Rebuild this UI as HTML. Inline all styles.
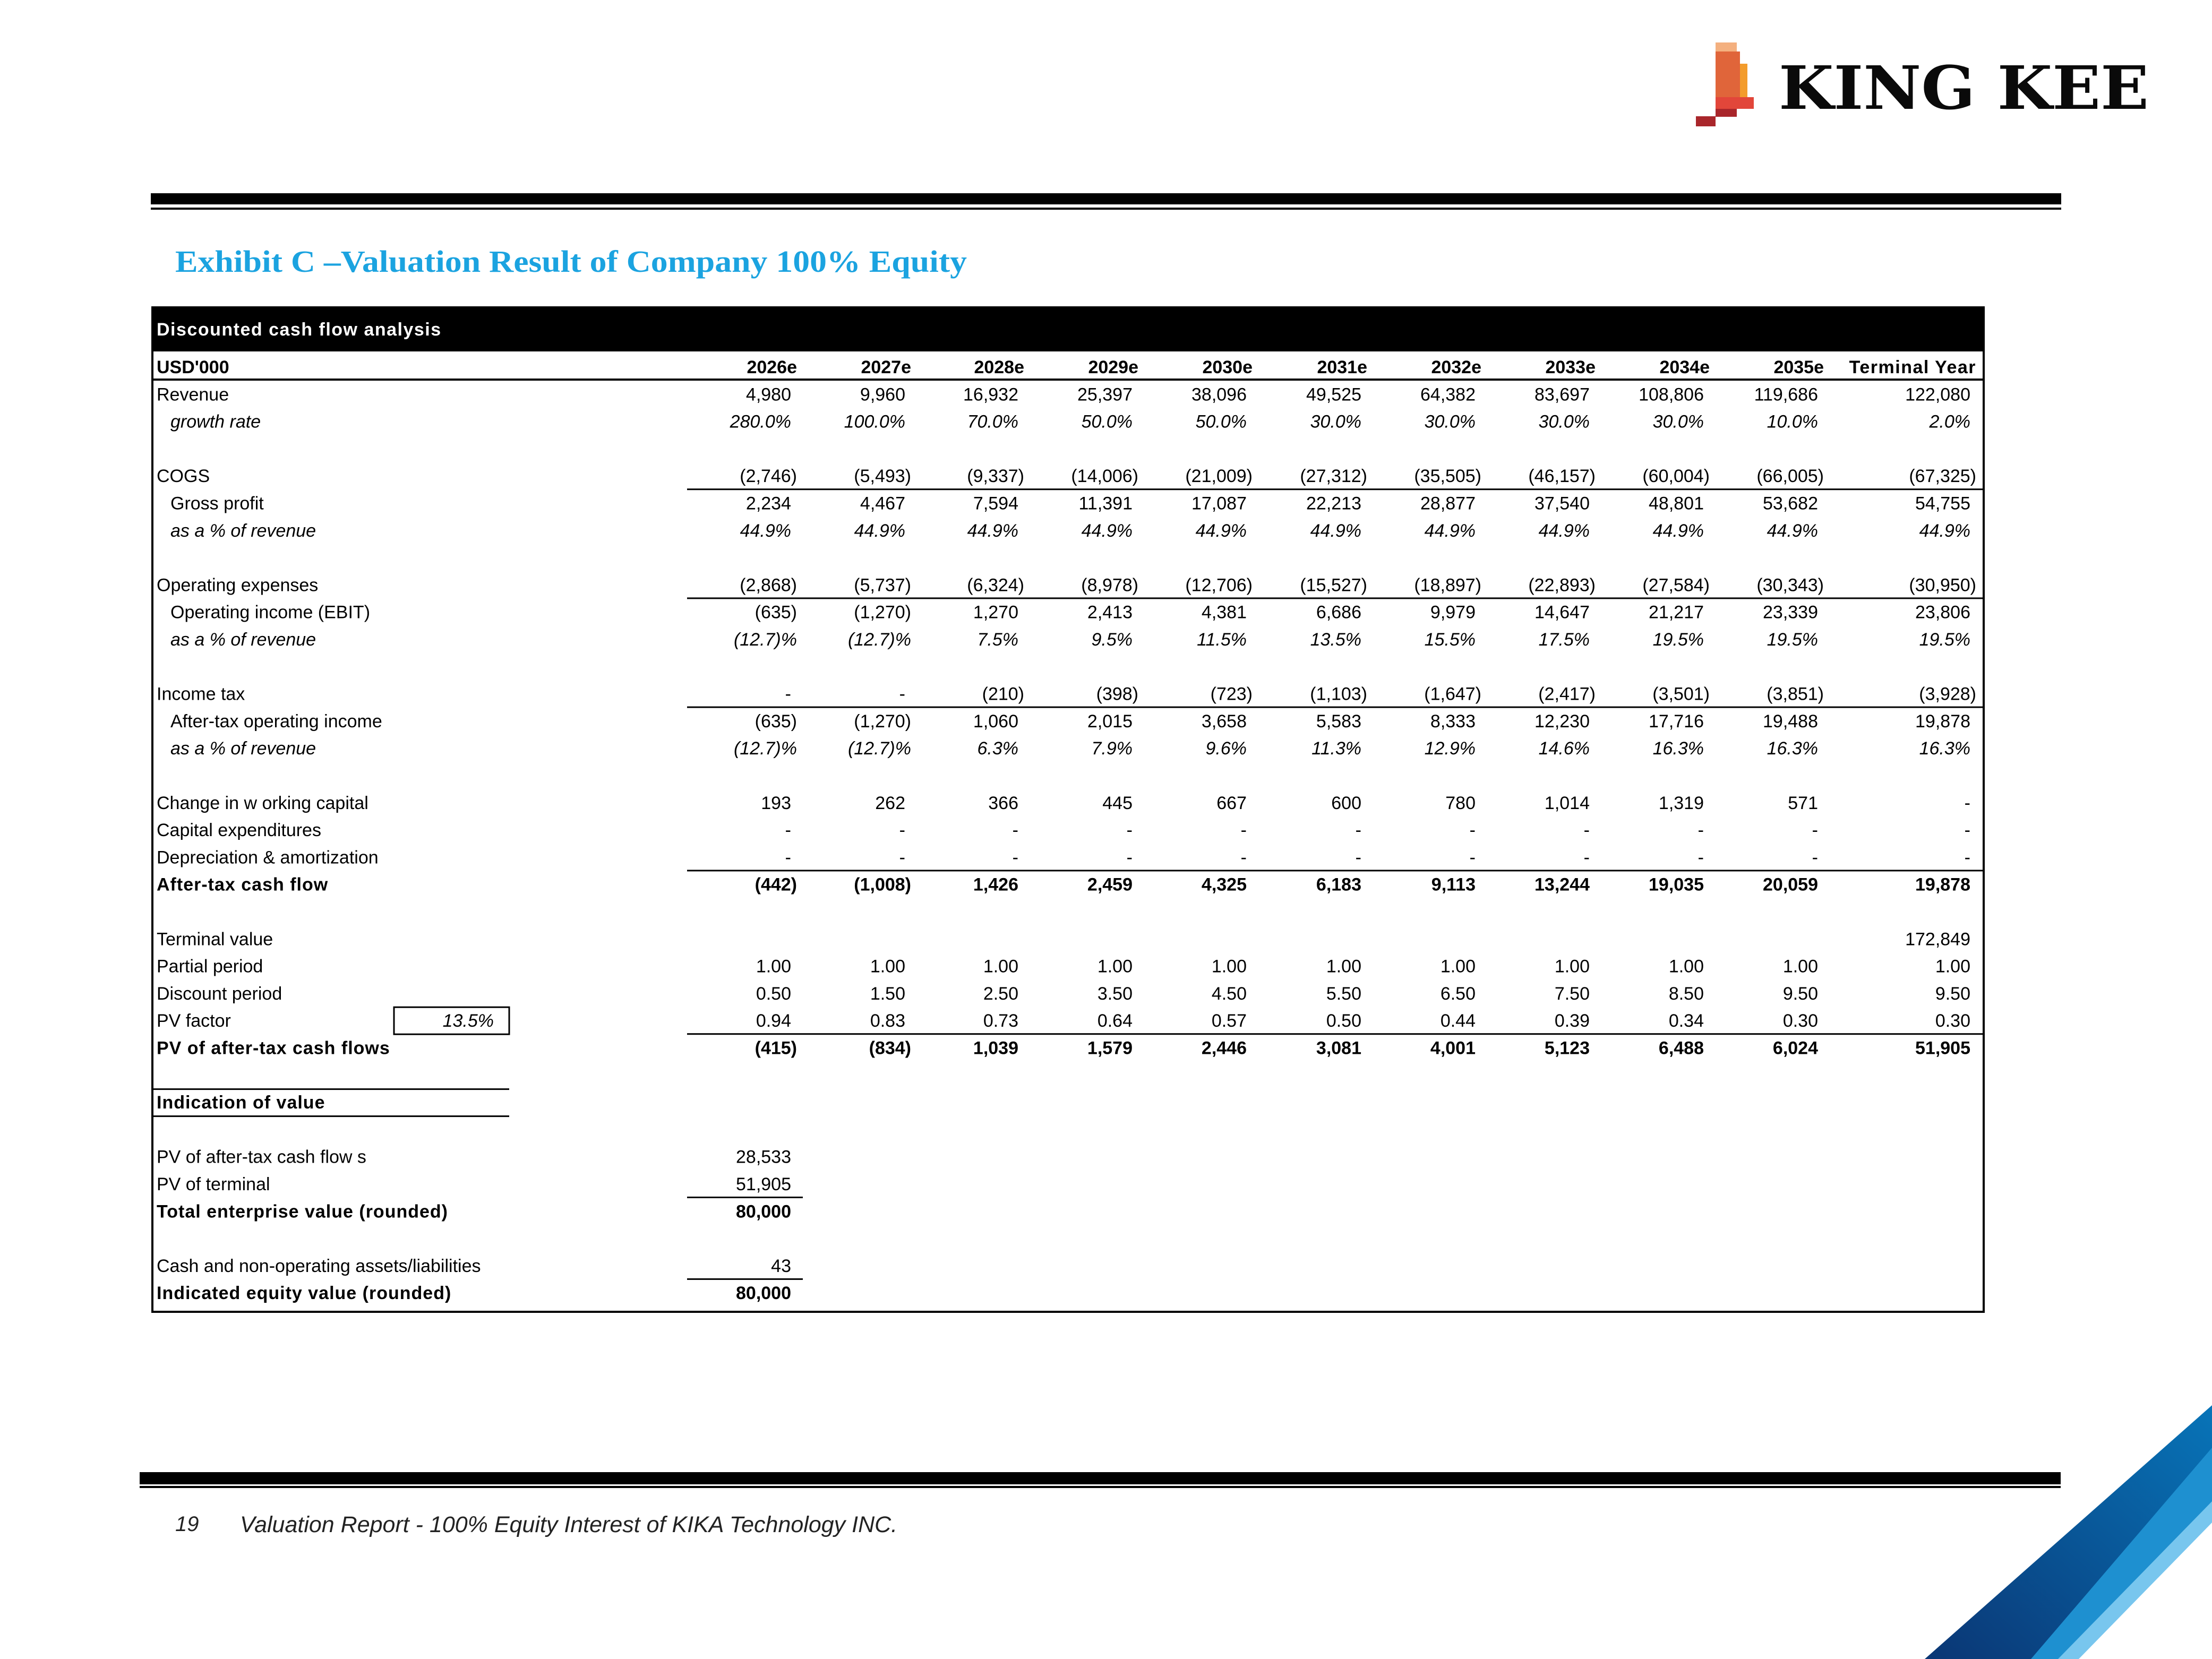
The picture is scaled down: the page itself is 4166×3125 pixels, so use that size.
<!DOCTYPE html>
<html><head><meta charset="utf-8"><style>
html,body{margin:0;padding:0;background:#fff;}
svg{display:block;}
text{font-family:"Liberation Sans",Arial,sans-serif;}
</style></head><body>
<svg id="pg" width="4166" height="3125" viewBox="0 0 4166 3125" xmlns="http://www.w3.org/2000/svg">
  <g>
    <rect x="3231" y="80" width="40" height="18" fill="#f4b07f"/>
    <rect x="3231" y="97" width="46" height="90" fill="#e0653a"/>
    <rect x="3277" y="120" width="14" height="63" fill="#f39c2c"/>
    <rect x="3231" y="183" width="72" height="22" fill="#e2463a"/>
    <rect x="3231" y="205" width="40" height="15" fill="#a9262b"/>
    <rect x="3194" y="219" width="37" height="19" fill="#a9262b"/>
    <text x="3350" y="205" style="font-family:'DejaVu Serif','Liberation Serif',serif;font-weight:900" font-size="112" textLength="697" lengthAdjust="spacingAndGlyphs" fill="#0a0a0a">KING KEE</text>
  </g>
  <rect x="284" y="364" width="3598" height="21" fill="#000"/>
  <rect x="284" y="391" width="3598" height="4" fill="#000"/>
  <text x="330" y="512" style="font-family:'Liberation Serif',serif;font-weight:bold" font-size="58" textLength="1491" lengthAdjust="spacingAndGlyphs" fill="#1ba3e0">Exhibit C –Valuation Result of Company 100% Equity</text>

  <g id="tbl">
    <rect x="287" y="579" width="3449" height="1892" fill="none" stroke="#000" stroke-width="4"/>
    <rect x="287" y="579" width="3449" height="83" fill="#000"/>
    <text x="295" y="632" font-size="34" font-weight="bold" fill="#fff" letter-spacing="1.5">Discounted cash flow analysis</text>
  </g>

  <rect x="263" y="2773" width="3618" height="23" fill="#000"/>
  <rect x="263" y="2799" width="3618" height="4" fill="#000"/>
  <text x="330" y="2884" font-size="40" font-style="italic" fill="#222">19</text>
  <text x="452" y="2886" font-size="43" font-style="italic" fill="#222">Valuation Report - 100% Equity Interest of KIKA Technology INC.</text>

  <g>
    <defs><linearGradient id="dg" x1="0" y1="1" x2="1" y2="0"><stop offset="0" stop-color="#0a3674"/><stop offset="1" stop-color="#0874b8"/></linearGradient></defs>
    <polygon points="3625,3125 4166,2647 4166,3125" fill="url(#dg)"/>
    <polygon points="3825,3125 4166,2727 4166,3125" fill="#1e90d0"/>
    <polygon points="3876,3125 4166,2828 4166,3125" fill="#78c6ee"/>
    <polygon points="3915,3125 4166,2868 4166,3125" fill="#fff"/>
  </g>
</svg>
<script>
var years = ["2026e","2027e","2028e","2029e","2030e","2031e","2032e","2033e","2034e","2035e","Terminal Year"];
var revenue = ["4,980","9,960","16,932","25,397","38,096","49,525","64,382","83,697","108,806","119,686","122,080"];
var growth = ["280.0%","100.0%","70.0%","50.0%","50.0%","30.0%","30.0%","30.0%","30.0%","10.0%","2.0%"];
var cogs = ["(2,746)","(5,493)","(9,337)","(14,006)","(21,009)","(27,312)","(35,505)","(46,157)","(60,004)","(66,005)","(67,325)"];
var grossProfit = ["2,234","4,467","7,594","11,391","17,087","22,213","28,877","37,540","48,801","53,682","54,755"];
var gpMargin = ["44.9%","44.9%","44.9%","44.9%","44.9%","44.9%","44.9%","44.9%","44.9%","44.9%","44.9%"];
var opex = ["(2,868)","(5,737)","(6,324)","(8,978)","(12,706)","(15,527)","(18,897)","(22,893)","(27,584)","(30,343)","(30,950)"];
var ebit = ["(635)","(1,270)","1,270","2,413","4,381","6,686","9,979","14,647","21,217","23,339","23,806"];
var ebitMargin = ["(12.7)%","(12.7)%","7.5%","9.5%","11.5%","13.5%","15.5%","17.5%","19.5%","19.5%","19.5%"];
var tax = ["-","-","(210)","(398)","(723)","(1,103)","(1,647)","(2,417)","(3,501)","(3,851)","(3,928)"];
var atoi = ["(635)","(1,270)","1,060","2,015","3,658","5,583","8,333","12,230","17,716","19,488","19,878"];
var atoiMargin = ["(12.7)%","(12.7)%","6.3%","7.9%","9.6%","11.3%","12.9%","14.6%","16.3%","16.3%","16.3%"];
var workingCap = ["193","262","366","445","667","600","780","1,014","1,319","571","-"];
var capex = ["-","-","-","-","-","-","-","-","-","-","-"];
var depAmort = ["-","-","-","-","-","-","-","-","-","-","-"];
var atcf = ["(442)","(1,008)","1,426","2,459","4,325","6,183","9,113","13,244","19,035","20,059","19,878"];
var terminalValue = ["","","","","","","","","","","172,849"];
var partial = ["1.00","1.00","1.00","1.00","1.00","1.00","1.00","1.00","1.00","1.00","1.00"];
var discount = ["0.50","1.50","2.50","3.50","4.50","5.50","6.50","7.50","8.50","9.50","9.50"];
var pvFactor = ["0.94","0.83","0.73","0.64","0.57","0.50","0.44","0.39","0.34","0.30","0.30"];
var pvCf = ["(415)","(834)","1,039","1,579","2,446","3,081","4,001","5,123","6,488","6,024","51,905"];
var summaryLabels = ["PV of after-tax cash flow s","PV of terminal","Total enterprise value (rounded)","","Cash and non-operating assets/liabilities","Indicated equity value (rounded)"];
var summaryValues = ["28,533","51,905","80,000","","43","80,000"];
var discountRate = "13.5%";

var NS="http://www.w3.org/2000/svg";
var tbl=document.getElementById('tbl');
var colRight=[1501,1716,1929,2144,2359,2575,2790,3005,3220,3435,3722];
function rowY(i){return 691+i*51.3;}
function mk(tag,attrs){var e=document.createElementNS(NS,tag);for(var k in attrs)e.setAttribute(k,attrs[k]);tbl.appendChild(e);return e;}
function txt(x,y,s,opt){var e=mk('text',{x:x,y:y,'font-size':34,fill:'#000'});
  if(opt.anchor)e.setAttribute('text-anchor',opt.anchor);
  if(opt.bold)e.setAttribute('font-weight','bold');
  if(opt.italic)e.setAttribute('font-style','italic');
  if(opt.ls)e.setAttribute('letter-spacing',opt.ls);
  e.textContent=s;return e;}
function vx(c,v){return /\)%?$/.test(v)?colRight[c]:colRight[c]-11;}

var rows=[
 [1,"Revenue",revenue,0,0,0],[2,"growth rate",growth,0,1,1],
 [4,"COGS",cogs,0,0,0],[5,"Gross profit",grossProfit,0,0,1],[6,"as a % of revenue",gpMargin,0,1,1],
 [8,"Operating expenses",opex,0,0,0],[9,"Operating income (EBIT)",ebit,0,0,1],[10,"as a % of revenue",ebitMargin,0,1,1],
 [12,"Income tax",tax,0,0,0],[13,"After-tax operating income",atoi,0,0,1],[14,"as a % of revenue",atoiMargin,0,1,1],
 [16,"Change in w orking capital",workingCap,0,0,0],[17,"Capital expenditures",capex,0,0,0],[18,"Depreciation & amortization",depAmort,0,0,0],
 [19,"After-tax cash flow",atcf,1,0,0],[21,"Terminal value",terminalValue,0,0,0],[22,"Partial period",partial,0,0,0],
 [23,"Discount period",discount,0,0,0],[24,"PV factor",pvFactor,0,0,0],[25,"PV of after-tax cash flows",pvCf,1,0,0]
];

var hy=rowY(0)+12;
var h=txt(295,hy,"USD'000",{bold:1});


years.forEach(function(yr,c){var e=txt(colRight[c],hy,yr,{bold:1,anchor:'end',ls:(c==10?'1.5':'0')});
  
  });
var hl=mk('rect',{x:287,y:713,width:3449,height:4,fill:'#000'});



rows.forEach(function(r){
  var y=rowY(r[0])+12;
  var lab=txt(r[5]?321:295,y,r[1],{bold:r[3],italic:r[4],ls:r[3]?'1':'0'});
  
  
  r[2].forEach(function(v,c){ if(!v)return;
    var e=txt(vx(c,v),y,v,{bold:r[3],italic:r[4],anchor:'end'});
    
    });
});

[4,8,12,18,24].forEach(function(i){
  var l=mk('rect',{x:1294,y:rowY(i)+24,width:2442,height:3,fill:'#000'});
  
  
});

var bx=mk('rect',{x:742,y:rowY(24)-25,width:217,height:51,fill:'none',stroke:'#000','stroke-width':3});


var dr=txt(930,rowY(24)+12,discountRate,{italic:1,anchor:'end'});



[rowY(27)-26,rowY(27)+25].forEach(function(y){
  var l=mk('rect',{x:287,y:y,width:672,height:3,fill:'#000'});
  
  
});
var iv=txt(295,rowY(27)+12,"Indication of value",{bold:1,ls:'1'});



summaryLabels.forEach(function(s,k){
  if(!s)return; var i=29+k; var bold=(k==2||k==5); var y=rowY(i)+12;
  var l=txt(295,y,s,{bold:bold,ls:bold?'1':'0'});
  
  
  var v=txt(colRight[0]-11,y,summaryValues[k],{bold:bold,anchor:'end'});
  
  
});
[30,33].forEach(function(i){
  var l=mk('rect',{x:1294,y:rowY(i)+24,width:218,height:3,fill:'#000'});
  
  
});
</script>
</body></html>
